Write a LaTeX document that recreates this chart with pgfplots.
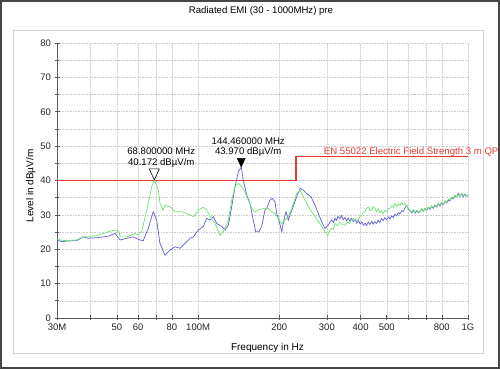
\documentclass[border=0pt]{standalone}
\usepackage{pgfplots}
\pgfplotsset{compat=1.18}
\usepackage{fontspec}
\setmainfont{Liberation Sans}
\definecolor{tblue}{RGB}{95,95,210}
\definecolor{tgreen}{RGB}{110,228,110}
\definecolor{lred}{RGB}{232,58,48}
\pgfdeclareplotmark{dtriA}{%
  \pgfpathmoveto{\pgfpoint{0pt}{0pt}}%
  \pgfpathlineto{\pgfpoint{-5pt}{11pt}}%
  \pgfpathlineto{\pgfpoint{5pt}{11pt}}%
  \pgfpathclose\pgfusepathqfillstroke}
\pgfdeclareplotmark{dtriB}{%
  \pgfpathmoveto{\pgfpoint{0pt}{0pt}}%
  \pgfpathlineto{\pgfpoint{-4pt}{8.5pt}}%
  \pgfpathlineto{\pgfpoint{4pt}{8.5pt}}%
  \pgfpathclose\pgfusepathqfillstroke}
\begin{document}
\begin{tikzpicture}[x=1pt,y=1pt]
\path[use as bounding box] (0,0) rectangle (500,369);
\fill[white] (0,0) rectangle (500,369);
\draw[gray!35, line width=0.8pt] (13,16) rectangle (483,339);
\node[font=\fontsize{9.6}{11}\selectfont] at (261,358) {Radiated EMI (30 - 1000MHz) pre};
\begin{axis}[
  at={(57pt,51pt)}, anchor=south west,
  scale only axis, width=411pt, height=275pt,
  clip=false,
  xmode=log, xmin=30, xmax=1000, ymin=0, ymax=80,
  axis x line=bottom, axis y line=left,
  axis line style={-, draw=black!65, line width=0.8pt},
  xtick={30,40,50,60,70,80,100,200,300,400,500,600,700,800,1000},
  xticklabels={30M,,50,60,,80,100M,200,300,400,500,,,800,1G},
  minor xtick={},
  ytick={0,10,...,80}, minor ytick={5,15,...,75},
  grid=both,
  major grid style={gray!40, dash pattern=on 0.8pt off 0.8pt, line width=0.5pt},
  minor grid style={gray!40, dash pattern=on 0.8pt off 0.8pt, line width=0.5pt},
  tick align=center, major tick length=5pt, minor tick length=4pt,
  tick style={black!65, line width=0.7pt},
  ticklabel style={font=\fontsize{9.5}{10}\selectfont, text=black!85},
  /pgf/number format/assume math mode=true,
  xlabel={Frequency in Hz}, ylabel={Level in dBµV/m},
  label style={font=\fontsize{10}{11}\selectfont},
  xlabel style={at={(axis description cs:0.512,-0.109)}, anchor=center},
  ylabel style={at={(axis description cs:-0.064,0.48)}, anchor=center},
]
% limit line
\addplot[lred, line width=1.5pt] coordinates {(30,40) (230,40) (230,47) (1000,47)};
% blue trace
\addplot[tblue, line width=0.7pt] coordinates {
(30,22.7) (31.2,22.2) (33.0,22.4) (35.5,22.5) (37.5,23.6) (39.2,23.2) (42.7,23.4)
(46.5,23.8) (49.2,24.6) (51.4,22.7) (54.4,23.2) (57.5,23.6) (60.9,22.7) (62.6,22.5)
(65.4,26.1) (67.3,29.5) (68.2,30.9) (70.2,28.5) (72.2,21.7) (73.3,20.7) (74.3,19.3)
(75.4,18.3) (78.7,19.8) (82.1,20.7) (85.7,20.3) (89.4,21.7) (93.3,23.2) (96.0,23.6)
(100.2,25.6) (104.5,26.6) (107.6,29.0) (110.7,28.5) (113.8,29.5) (117.2,27.5)
(122.3,26.6) (125.8,25.6) (129.4,27.0) (133.2,32.4) (137.0,38.2) (140.9,42.5)
(144.46,43.97) (147.0,40.1) (151.4,35.8) (155.7,33.3) (160.1,28.5) (163.4,25.1)
(168.1,25.1) (172.0,26.6) (176.9,31.4) (179.5,31.9) (184.6,34.3) (188.3,34.8)
(192.6,33.8) (195.5,30.4) (199.3,28.5) (204.0,25.1) (208.0,28.5) (211.6,30.9)
(215.8,28.5) (219.0,29.9) (225.2,32.4) (231.8,35.3) (238.5,37.7) (245.3,37.2)
(252.5,36.2) (262.0,35.3) (271.0,32.8) (278.8,30.4) (287.0,28.0) (295.2,26.1)
(303.6,27.0) (308,27.9) (312.5,28.5) (317,27.8) (321.5,29.0) (326,28.4) (330,29.6)
(335,28.9) (340,29.8) (345,28.6) (350,29.2) (355,28.3) (360,29.1) (365,28.2)
(370,29.0) (376,28.0) (382,28.7) (387,27.6) (393,28.3) (398,27.4) (404,27.9)
(410,27.0) (415,27.6) (421,26.9) (427,27.9) (433,27.2) (440,28.1) (446,27.3)
(452,28.0) (458,27.5) (465,28.4) (471,27.8) (478,28.9) (485,28.3) (492,29.2)
(500,28.6) (507,29.4) (514,28.8) (522,29.7) (529,29.2) (536,30.2) (544,29.7)
(552,30.6) (560,30.3) (568,31.2) (576,31.0) (584,32.0) (593,32.8) (601,31.5)
(610,31.2) (619,30.6) (628,31.3) (637,30.5) (646,31.2) (655,30.6) (664,31.0)
(674,31.8) (683,31.0) (693,31.9) (703,31.3) (713,32.2) (723,31.6) (733,32.5)
(744,31.9) (755,32.8) (766,32.3) (776,33.2) (787,32.6) (798,33.5) (810,33.0)
(822,33.9) (834,33.4) (846,34.4) (857,34.0) (869,35.0) (882,34.6) (894,35.6)
(907,35.2) (920,36.3) (933,35.5) (947,36.1) (960,35.3) (973,36.0) (986,35.4)
(1000,35.8)};
% green trace
\addplot[tgreen, line width=0.7pt] coordinates {
(30,23.0) (31.2,22.6) (33.0,22.5) (35.5,22.7) (37.5,23.6) (39.2,23.6) (42.7,24.1)
(46.5,25.1) (49.2,25.6) (50.8,25.3) (51.4,23.6) (54.4,23.6) (58.4,24.6) (60.0,24.1)
(61.8,25.1) (64.5,31.4) (67.3,38.2) (68.8,40.172) (71.2,37.2) (72.2,33.5) (74.3,31.4)
(75.4,32.8) (78.7,32.4) (82.1,30.9) (86.9,30.9) (90.7,30.4) (96.0,29.5) (100.2,31.4)
(104.5,32.2) (107.6,31.4) (110.7,29.5) (115.5,27.5) (120.5,24.1) (124.0,25.1)
(129.4,28.5) (133.2,34.3) (137.0,38.2) (140.9,39.2) (147.0,37.7) (153.5,34.3)
(158.0,31.9) (162.5,30.9) (169.5,31.6) (176.9,31.9) (182.0,31.9) (187.3,30.9)
(192.6,30.4) (198.1,29.0) (204.0,27.5) (209.8,28.5) (215.8,29.5) (222.2,31.9)
(231.8,36.2) (238.5,37.2) (245.3,35.3) (256.0,32.4) (271.0,29.5) (282.8,27.5)
(295.2,25.1) (302.1,24.1) (307,25.3) (312.5,26.1) (317,25.8) (321.5,27.5) (328,26.9)
(335.5,28.0) (342,27.2) (350,27.0) (357,27.9) (365,27.5) (370,28.6) (376,29.0)
(383,28.2) (392,28.5) (398,29.6) (404,29.9) (410,30.8) (415,30.9) (421,31.8)
(427,32.4) (433,31.2) (440,31.4) (446,32.4) (452,31.9) (458,31.0) (465,31.8)
(472,30.6) (478,31.2) (485,30.4) (492,31.3) (500,30.9) (507,31.8) (514,31.9)
(522,32.6) (529,32.2) (536,33.3) (544,32.5) (552,33.2) (560,32.8) (568,33.6)
(576,32.9) (584,33.3) (593,32.5) (601,31.9) (610,31.2) (619,30.9) (628,31.5)
(637,30.7) (646,31.4) (655,30.8) (664,30.9) (674,31.7) (683,31.1) (693,31.9)
(703,31.4) (713,32.3) (723,31.9) (733,32.6) (744,32.1) (755,33.0) (766,32.5)
(776,33.3) (787,32.8) (798,33.7) (810,33.2) (822,34.1) (834,33.6) (846,34.6)
(857,34.3) (869,35.2) (882,34.8) (894,35.7) (907,35.3) (920,35.9) (933,35.4)
(947,36.2) (960,35.6) (973,36.1) (986,35.5) (1000,35.8)};
% peak markers
\addplot[only marks, mark=dtriA, mark options={fill=white, draw=black, line width=0.6pt}] coordinates {(68.8,40.172)};
\addplot[only marks, mark=dtriB, mark options={fill=black, draw=black, line width=0.5pt}] coordinates {(144.46,43.97)};
\node[align=center, anchor=south, inner sep=0pt, font=\fontsize{9.6}{10.5}\selectfont, xshift=7pt, yshift=12.5pt] at (axis cs:68.8,40.172) {68.800000 MHz\\40.172 dBµV/m};
\node[align=center, anchor=south, inner sep=0pt, font=\fontsize{9.6}{10.5}\selectfont, xshift=7pt, yshift=10pt] at (axis cs:144.46,43.97) {144.460000 MHz\\43.970 dBµV/m};
\node[anchor=west, inner sep=0pt, text=lred, font=\fontsize{9.6}{10}\selectfont] at (axis cs:292,48.3) {EN 55022 Electric Field Strength 3 m QP};
\end{axis}
\draw[gray!55!black, line width=2pt] (1,1) rectangle (499,368);
\end{tikzpicture}
\end{document}
